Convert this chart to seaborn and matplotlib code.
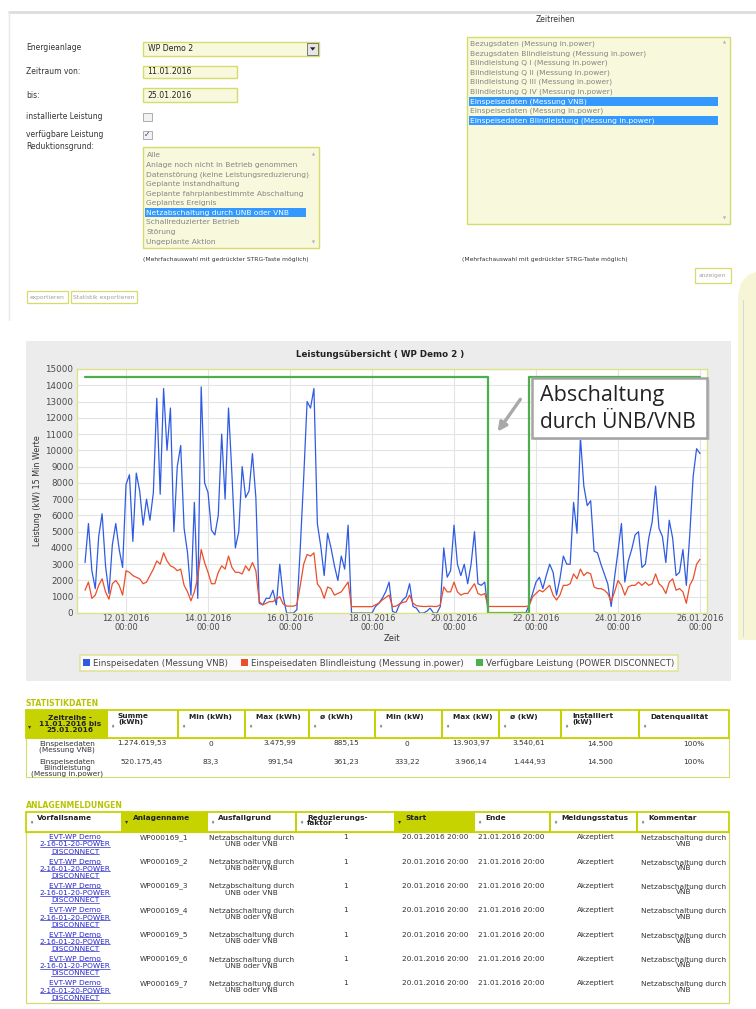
import numpy as np
import pandas as pd
import matplotlib
matplotlib.use("Agg")
import matplotlib.pyplot as plt
from matplotlib.patches import Rectangle, Polygon, Patch, FancyArrowPatch
import seaborn as sns

# ---------------- data ----------------
series_start = "2016-01-11 00:00"
series_step = "2h"
# Einspeisedaten (Messung VNB), kW, every 2 h from 11.01.2016 00:00
blue_kw = [
    3100, 5500, 2600, 1500, 4700, 6100, 2900, 1200, 4200, 5500, 3900, 2800,   # 11.01
    7900, 8500, 4400, 8600, 7500, 5400, 7000, 5700, 7400, 13200, 7300, 13800,  # 12.01
    10000, 12600, 5000, 9000, 10300, 5200, 3700, 1100, 6800, 900, 13900, 8000, # 13.01
    7400, 5100, 4800, 6000, 11000, 7000, 12600, 8500, 4000, 5000, 9000, 7100,  # 14.01
    7500, 9800, 7100, 600, 500, 900, 900, 1400, 500, 3000, 1000, 0,            # 15.01
    0, 0, 200, 4000, 8300, 13000, 12600, 13800, 5500, 4100, 2300, 4900,        # 16.01
    4000, 2900, 2000, 3500, 2700, 5400, 0, 0, 0, 0, 0, 0,                      # 17.01
    0, 400, 600, 900, 1300, 1900, 100, 0, 500, 800, 1000, 1800,                # 18.01
    400, 300, 0, 0, 100, 300, 0, 0, 400, 4000, 2200, 2600,                     # 19.01
    5400, 3000, 2300, 3000, 1800, 3000, 5000, 1800, 1700, 1900, 0, 0,          # 20.01
    0, 0, 0, 0, 0, 0, 0, 0, 0, 0, 500, 1200,                                   # 21.01
    1900, 2200, 1500, 2300, 3000, 2500, 1100, 2100, 3500, 3000, 3000, 6800,    # 22.01
    4900, 10800, 7800, 6600, 6900, 3800, 3700, 3000, 2400, 1800, 400, 2200,    # 23.01
    3800, 5500, 1900, 3200, 3900, 4800, 5000, 2800, 3000, 4600, 5600, 7800,    # 24.01
    5200, 4700, 3100, 5700, 4600, 2300, 2500, 3900, 1700, 4800, 8400, 10100,   # 25.01
    9800,                                                                      # 26.01
]
# Einspeisedaten Blindleistung (Messung in.power), kW
red_kw = [
    1400, 1900, 900, 1100, 1700, 2100, 1300, 850, 1800, 2000, 1700, 1100,
    2600, 2500, 2300, 2200, 2100, 1800, 1900, 2300, 2700, 3200, 3000, 3700,
    3200, 2900, 2800, 2600, 2700, 1700, 1300, 750, 1300, 2200, 3900, 3100,
    2500, 1800, 1800, 2500, 2900, 2700, 3500, 2800, 2500, 2500, 2400, 2900,
    2600, 3100, 2600, 700, 500, 600, 700, 700, 850, 1000, 550, 430,
    420, 420, 500, 1700, 3000, 3600, 3500, 3700, 1800, 1500, 900, 1600,
    1500, 1100, 1200, 1300, 1600, 1900, 390, 390, 390, 390, 390, 390,
    390, 500, 600, 800, 950, 1100, 390, 420, 550, 650, 700, 1100,
    600, 450, 420, 400, 400, 420, 400, 400, 500, 1600, 1300, 1300,
    1900, 1300, 1100, 1200, 1200, 1500, 1800, 1200, 1100, 1200, 400, 400,
    400, 400, 400, 400, 400, 400, 400, 400, 400, 400, 450, 1000,
    1200, 1400, 1300, 1500, 1700, 1100, 800, 1100, 1700, 1700, 1800, 2400,
    2100, 2700, 2300, 2500, 2400, 1600, 1500, 1500, 1400, 1200, 700, 1300,
    2000, 1700, 1100, 1600, 1700, 1700, 1900, 1700, 1900, 1700, 1800, 2400,
    1800, 1600, 1200, 1900, 2100, 1400, 1500, 1300, 600, 1700, 2100, 3000,
    3300,
]
# Verfügbare Leistung (POWER DISCONNECT), step series
green_times = ["2016-01-11 00:00", "2016-01-20 20:00", "2016-01-21 20:00", "2016-01-26 00:00"]
green_kw = [14500, 0, 14500, 14500]

series_names = ["Einspeisedaten (Messung VNB)",
                "Einspeisedaten Blindleistung (Messung in.power)",
                "Verfügbare Leistung (POWER DISCONNECT)"]
series_colors = ["#2f5be3", "#ea4f2a", "#4cae4c"]
x_tick_days = ["2016-01-12", "2016-01-14", "2016-01-16", "2016-01-18",
               "2016-01-20", "2016-01-22", "2016-01-24", "2016-01-26"]
y_tick_values = [0, 1000, 2000, 3000, 4000, 5000, 6000, 7000, 8000, 9000,
                 10000, 11000, 12000, 13000, 14000, 15000]

# form / table texts
reduktion_items = ["Alle", "Anlage noch nicht in Betrieb genommen",
                   "Datenstörung (keine Leistungsreduzierung)", "Geplante Instandhaltung",
                   "Geplante fahrplanbestimmte Abschaltung", "Geplantes Ereignis",
                   "Netzabschaltung durch UNB oder VNB", "Schallreduzierter Betrieb",
                   "Störung", "Ungeplante Aktion"]
reduktion_selected = [6]
zeitreihen_items = ["Bezugsdaten (Messung in.power)",
                    "Bezugsdaten Blindleistung (Messung in.power)",
                    "Blindleistung Q I (Messung in.power)",
                    "Blindleistung Q II (Messung in.power)",
                    "Blindleistung Q III (Messung in.power)",
                    "Blindleistung Q IV (Messung in.power)",
                    "Einspeisedaten (Messung VNB)",
                    "Einspeisedaten (Messung in.power)",
                    "Einspeisedaten Blindleistung (Messung in.power)"]
zeitreihen_selected = [6, 8]

stat_headers = ["Zeitreihe -\n11.01.2016 bis\n25.01.2016", "Summe\n(kWh)", "Min (kWh)",
                "Max (kWh)", "ø (kWh)", "Min (kW)", "Max (kW)", "ø (kW)",
                "Installiert\n(kW)", "Datenqualität"]
stat_row_labels = ["Einspeisedaten\n(Messung VNB)",
                   "Einspeisedaten\nBlindleistung\n(Messung in.power)"]
stat_rows = [["1.274.619,53", "0", "3.475,99", "885,15", "0", "13.903,97", "3.540,61", "14.500", "100%"],
             ["520.175,45", "83,3", "991,54", "361,23", "333,22", "3.966,14", "1.444,93", "14.500", "100%"]]

meld_headers = ["Vorfallsname", "Anlagenname", "Ausfallgrund", "Reduzierungs-\nfaktor",
                "Start", "Ende", "Meldungsstatus", "Kommentar"]
meld_sorted = [1, 4]
meld_anlagen = ["WP000169_1", "WP000169_2", "WP000169_3", "WP000169_4",
                "WP000169_5", "WP000169_6", "WP000169_7"]
meld_link = ["EVT-WP Demo", "2-16-01-20-POWER", "DISCONNECT"]
meld_grund = "Netzabschaltung durch\nÜNB oder VNB"
meld_faktor = "1"
meld_start = "20.01.2016 20:00"
meld_ende = "21.01.2016 20:00"
meld_status = "Akzeptiert"
meld_kommentar = "Netzabschaltung durch\nVNB"

# ---------------- figure ----------------
sns.set_theme(style="white")
plt.rcParams['font.family'] = ['DejaVu Sans']

W, H = 756, 1009
fig = plt.figure(figsize=(W / 100, H / 100), dpi=100)
fig.patch.set_facecolor("white")

bg = fig.add_axes([0, 0, 1, 1], zorder=0)
bg.set_xlim(0, W); bg.set_ylim(H, 0); bg.axis("off")

YG = "#c6d300"        # yellow-green
BORDER = "#d6db6e"
FILL = "#f8f8dc"
HIL = "#3399ff"


def rect(x0, y0, x1, y1, fc="none", ec="none", lw=0.8, ax=None, z=1):
    (ax or bg).add_patch(Rectangle((x0, y0), x1 - x0, y1 - y0, facecolor=fc,
                                   edgecolor=ec, linewidth=lw, zorder=z))


def txt(x, y, s, size=5.5, color="#333333", ha="left", va="center", weight="normal",
        ax=None, **kw):
    return (ax or bg).text(x, y, s, fontsize=size, color=color, ha=ha, va=va,
                           fontweight=weight, zorder=5, **kw)


# page frame
bg.plot([9, 756], [12, 12], color="#dddddd", lw=2.0, zorder=1)
bg.plot([9, 9], [12, 320], color="#e8e8e8", lw=1.0, zorder=1)

# ---- left form ----
txt(26, 47.7, "Energieanlage")
txt(26, 71.7, "Zeitraum von:")
txt(26, 95, "bis:")
txt(26, 116.7, "installierte Leistung")
txt(26, 134.3, "verfügbare Leistung")
txt(26, 146.7, "Reduktionsgrund:")

rect(143.3, 41.7, 319.3, 55.7, fc=FILL, ec=BORDER, lw=1.0)
txt(148, 48.7, "WP Demo 2", size=5.6, color="#222222")
rect(307, 42.6, 318.4, 54.6, fc="#e6e6e6", ec="#7a7a7a", lw=0.7, z=2)
bg.add_patch(Polygon([[310, 47.3], [315.4, 47.3], [312.7, 50.6]], closed=True,
                     facecolor="#222222", edgecolor="none", zorder=3))

rect(143.3, 65.7, 237.3, 78.3, fc=FILL, ec=BORDER, lw=1.0)
txt(147, 72, "11.01.2016", size=5.6, color="#222222")
rect(143.3, 88.3, 237.3, 102, fc=FILL, ec=BORDER, lw=1.0)
txt(147, 95.2, "25.01.2016", size=5.6, color="#222222")

rect(143.3, 112.7, 151.5, 120.7, fc="#f2f2f2", ec="#a0a0a0", lw=0.6)
rect(143.3, 130.5, 151.5, 138.5, fc="#f2f2f2", ec="#a0a0a0", lw=0.6)
txt(147.4, 134.8, "✓", size=5.5, color="#3b4a8a", ha="center")

rect(143.3, 147.3, 319.3, 248.3, fc=FILL, ec=BORDER, lw=1.0)
for k, item in enumerate(reduktion_items):
    yy = 155 + 9.63 * k
    if k in reduktion_selected:
        rect(145.3, yy - 4.6, 306, yy + 4.6, fc=HIL, z=2)
        txt(146.5, yy, item, size=5.4, color="white")
    else:
        txt(146.5, yy, item, size=5.4, color="#858585")
txt(313, 154, "▲", size=2.8, color="#aaaaaa", ha="center")
txt(313, 242.7, "▼", size=2.8, color="#aaaaaa", ha="center")
txt(143.3, 259.3, "(Mehrfachauswahl mit gedrückter STRG-Taste möglich)", size=4.3, color="#333333")

# ---- right form ----
txt(555, 19, "Zeitreihen", size=5.5, ha="center")
rect(466.7, 36.7, 730, 224.3, fc=FILL, ec=BORDER, lw=1.0)
for k, item in enumerate(zeitreihen_items):
    yy = 43.7 + 9.6 * k
    if k in zeitreihen_selected:
        rect(468.7, yy - 4.6, 718, yy + 4.6, fc=HIL, z=2)
        txt(470, yy, item, size=5.4, color="white")
    else:
        txt(470, yy, item, size=5.4, color="#858585")
txt(724, 42.5, "▲", size=2.8, color="#aaaaaa", ha="center")
txt(724, 218, "▼", size=2.8, color="#aaaaaa", ha="center")
txt(461.7, 259.3, "(Mehrfachauswahl mit gedrückter STRG-Taste möglich)", size=4.3, color="#333333")

rect(695, 268.3, 730.7, 282.7, fc="white", ec=BORDER, lw=0.9)
txt(712.8, 275.5, "anzeigen", size=4.3, color="#a0a0a0", ha="center")
rect(26.7, 291, 68.3, 303.3, fc="white", ec=BORDER, lw=0.9)
txt(47.5, 297.2, "exportieren", size=4.3, color="#a0a0a0", ha="center")
rect(70.7, 291, 136.7, 303.3, fc="white", ec=BORDER, lw=0.9)
txt(103.7, 297.2, "Statistik exportieren", size=4.3, color="#a0a0a0", ha="center")

# right decoration
bg.add_patch(Polygon([[756, 272], [748, 275], [741, 283], [738, 295], [738, 640], [756, 640]],
                     closed=True, facecolor="#f6f6d6", edgecolor="none", zorder=1))
bg.plot([743, 743], [300, 636], color="#d4d4d4", lw=0.6, zorder=2)

# ---- chart panel ----
rect(26, 341, 731, 681, fc="#ececec", z=1)
txt(380, 354.5, "Leistungsübersicht ( WP Demo 2 )", size=6.3, weight="bold",
    color="#222222", ha="center")

ax = fig.add_axes([77 / W, 1 - 613 / H, (707 - 77) / W, (613 - 369) / H], zorder=2)
ax.set_facecolor("white")

times = pd.date_range(series_start, periods=len(blue_kw), freq=series_step)
df = pd.DataFrame({
    "Zeit": np.concatenate([times, times]),
    "Leistung": blue_kw + red_kw,
    "Reihe": [series_names[0]] * len(blue_kw) + [series_names[1]] * len(red_kw),
})
sns.lineplot(data=df, x="Zeit", y="Leistung", hue="Reihe",
             hue_order=series_names[:2], palette=series_colors[:2],
             linewidth=0.9, legend=False, ax=ax)
dfg = pd.DataFrame({"Zeit": pd.to_datetime(green_times), "Leistung": green_kw})
sns.lineplot(data=dfg, x="Zeit", y="Leistung", color=series_colors[2], linewidth=1.6,
             drawstyle="steps-post", legend=False, ax=ax)

ax.set_xlim(pd.Timestamp("2016-01-10 19:18"), pd.Timestamp("2016-01-26 04:06"))
ax.set_ylim(0, 15000)
xt = pd.to_datetime(x_tick_days)
ax.set_xticks(xt)
ax.set_xticklabels([f"{d.strftime('%d.%m.%Y')}\n00:00" for d in xt], fontsize=6.0,
                   color="#4a4a4a", linespacing=0.95)
ax.set_yticks(y_tick_values)
ax.set_yticklabels([str(v) for v in y_tick_values], fontsize=6.3, color="#4a4a4a")
ax.tick_params(axis="both", length=0)
ax.tick_params(axis="x", pad=1.0)
ax.tick_params(axis="y", pad=2.6)
ax.grid(True, color="#e4e4e4", linewidth=0.8)
ax.set_axisbelow(True)
for sp in ax.spines.values():
    sp.set_color("#dde389")
    sp.set_linewidth(1.0)
ax.set_xlabel("Zeit", fontsize=6.0, color="#333333")
ax.xaxis.set_label_coords(0.5, -0.085)
ax.set_ylabel("Leistung (kW) 15 Min Werte", fontsize=5.8, color="#333333")
ax.yaxis.set_label_coords(-0.055, 0.5)

handles = [Patch(facecolor=c, edgecolor="none") for c in series_colors]
leg = ax.legend(handles, series_names, loc="center", ncol=3,
                bbox_to_anchor=(379 / W, 1 - 663 / H), bbox_transform=fig.transFigure,
                frameon=True, fancybox=False, fontsize=6.2, handlelength=0.75,
                handleheight=0.75, handletextpad=0.4, columnspacing=1.5,
                borderpad=0.4, labelcolor="#444444")
leg.get_frame().set_edgecolor("#d9df7a")
leg.get_frame().set_linewidth(1.1)
leg.get_frame().set_facecolor("white")

# ---- annotation overlay ----
ov = fig.add_axes([0, 0, 1, 1], zorder=3)
ov.set_xlim(0, W); ov.set_ylim(H, 0); ov.axis("off"); ov.patch.set_alpha(0)
rect(533.5, 380, 709.5, 440, fc="#d8d8d8", ax=ov, z=1)
rect(531.5, 378, 707, 437.5, fc="white", ec="#a4a4a4", lw=1.8, ax=ov, z=2)
ov.text(540, 396, "Abschaltung", fontsize=15.5, color="#222222", ha="left", va="center",
        family=["Open Sans", "DejaVu Sans"], zorder=3)
ov.text(540, 423, "durch ÜNB/VNB", fontsize=15, color="#222222", ha="left", va="center",
        family=["Open Sans", "DejaVu Sans"], zorder=3)
ov.add_patch(FancyArrowPatch((522, 397), (496, 434), arrowstyle="-|>", mutation_scale=13,
                             color="#a9a9a9", linewidth=2.4, zorder=3))

# ---- Statistikdaten ----
txt(26, 704, "STATISTIKDATEN", size=5.6, weight="bold", color="#b9c400")
sc = [26, 107, 178, 245, 309, 375, 442, 499, 561, 639, 729]
rect(26, 738, 729, 777, fc="white", ec=BORDER, lw=0.8)
rect(sc[0], 710, sc[1], 738, fc=YG, z=2)
for k in range(len(sc) - 1):
    rect(sc[k], 710, sc[k + 1], 738, ec=YG, lw=1.3, z=3)
txt(70, 724, stat_headers[0], size=5.3, weight="bold", color="#222222", ha="center",
    linespacing=0.95, multialignment="center")
txt(30, 726.5, "▾", size=4.5, color="#333333", ha="center")
for k in range(1, len(stat_headers)):
    txt(sc[k] + 11, 713.5, stat_headers[k], size=5.3, weight="bold", color="#222222",
        va="top", linespacing=0.95)
    txt(sc[k] + 5, 726, "♦", size=3.3, color="#8a8a8a", ha="center")
stat_label_y = [747, 768]
stat_val_y = [743.5, 762]
val_x = [142, 211, 280, 346, 407, 471, 529, 600, 694]
for r in range(2):
    txt(67, stat_label_y[r], stat_row_labels[r], size=5.3, color="#333333", ha="center",
        linespacing=0.92, multialignment="center")
    for c, v in enumerate(stat_rows[r]):
        txt(val_x[c], stat_val_y[r], v, size=5.3, color="#333333", ha="center")

# ---- Anlagenmeldungen ----
txt(26, 805, "ANLAGENMELDUNGEN", size=5.6, weight="bold", color="#b9c400")
mc = [26, 122, 207, 296, 395, 474, 550, 637, 729]
rect(26, 832, 729, 1002.5, fc="white", ec=BORDER, lw=0.9)
for k in range(len(mc) - 1):
    if k in meld_sorted:
        rect(mc[k], 811.5, mc[k + 1], 832, fc=YG, z=2)
    rect(mc[k], 811.5, mc[k + 1], 832, ec=YG, lw=1.3, z=3)
    txt(mc[k] + 11, 815, meld_headers[k], size=5.3, weight="bold", color="#222222",
        va="top", linespacing=0.85)
    if k in meld_sorted:
        txt(mc[k] + 5, 821.5, "▾", size=4.5, color="#333333", ha="center")
    else:
        txt(mc[k] + 5, 822, "♦", size=3.3, color="#8a8a8a", ha="center")

link_texts = []
pitch = 24.35
for r, name in enumerate(meld_anlagen):
    y0 = 837.3 + pitch * r
    for j, line in enumerate(meld_link):
        link_texts.append(txt(75, y0 + 7.2 * j, line, size=5.3, color="#2a2ad0", ha="center"))
    txt(164.5, y0, name, size=5.3, color="#333333", ha="center")
    txt(251.6, y0 + 3.6, meld_grund, size=5.3, color="#333333", ha="center",
        linespacing=0.9, multialignment="center")
    txt(345.7, y0, meld_faktor, size=5.3, color="#333333", ha="center")
    txt(435, y0, meld_start, size=5.3, color="#333333", ha="center")
    txt(511, y0, meld_ende, size=5.3, color="#333333", ha="center")
    txt(595.7, y0, meld_status, size=5.3, color="#333333", ha="center")
    txt(684, y0 + 3.6, meld_kommentar, size=5.3, color="#333333", ha="center",
        linespacing=0.9, multialignment="center")

# underline the links
fig.canvas.draw()
renderer = fig.canvas.get_renderer()
inv = bg.transData.inverted()
for t in link_texts:
    bb = t.get_window_extent(renderer)
    (x0, y0), (x1, y1) = inv.transform([[bb.x0, bb.y0], [bb.x1, bb.y1]])
    bg.plot([x0, x1], [y0 - 0.6, y0 - 0.6], color="#2a2ad0", lw=0.5, zorder=5)

fig.savefig("out.png", dpi=100, facecolor="white")
